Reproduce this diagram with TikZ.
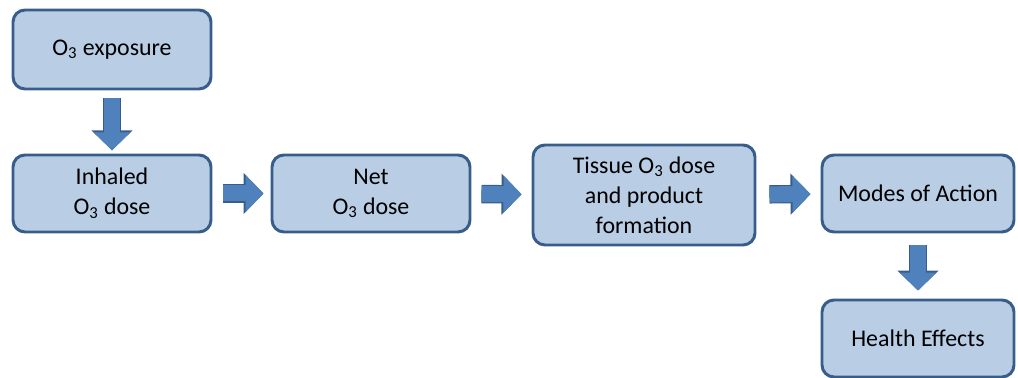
\documentclass[tikz,border=0pt]{standalone}
\usepackage{fontspec}
\setmainfont{Carlito}
\usepackage{xcolor}
\usepackage{tikz}
\usetikzlibrary{arrows.meta}
\definecolor{boxfill}{HTML}{B9CDE5}
\definecolor{boxedge}{HTML}{385D8A}
\definecolor{arrowblue}{HTML}{4F81BD}
\newcommand{\Othree}{O\textsubscript{3}}
\newcommand{\flow}[4]{\draw[flowarrow,shorten <=#3cm,shorten >=#4cm] (#1) -- (#2);}
\tikzset{stage/.style={draw=boxedge,fill=boxfill,line width=2.1pt,rounded corners=0.3cm,
    align=center,inner sep=0pt,minimum width=4.95cm,minimum height=1.925cm,
    font=\fontsize{17}{21.3}\selectfont},
  flowarrow/.style={arrowblue,line width=0.4cm,-{Triangle[width=0.9cm,length=0.45cm]},
    preaction={draw=boxedge,line width=0.46cm,-{Triangle[width=1.0cm,length=0.5cm]}}}}

\begin{document}
\begin{tikzpicture}
\useasboundingbox (0,0) rectangle (25.45,-9.45);
\node[stage,minimum height=1.975cm] (expo) at (2.8,-1.2375) {\Othree\ exposure};
\node[stage] (inhal) at (2.8,-4.8375) {Inhaled\\\Othree\ dose};
\node[stage] (net) at (9.275,-4.8375) {Net\\\Othree\ dose};
\node[stage,minimum width=5.55cm,minimum height=2.5cm] (tissue) at (16.1,-4.875) {Tissue \Othree\ dose\\and product\\formation};
\node[stage,minimum width=4.8cm] (modes) at (22.95,-4.8375) {Modes of Action};
\node[stage,minimum width=4.8cm] (health) at (22.95,-8.4625) {Health Effects};
\flow{expo}{inhal}{0.2}{0.08}
\flow{inhal}{net}{0.275}{0.175}
\flow{net}{tissue}{0.25}{0.25}
\flow{tissue}{modes}{0.325}{0.25}
\flow{modes}{health}{0.3}{0.2}
\end{tikzpicture}
\end{document}
